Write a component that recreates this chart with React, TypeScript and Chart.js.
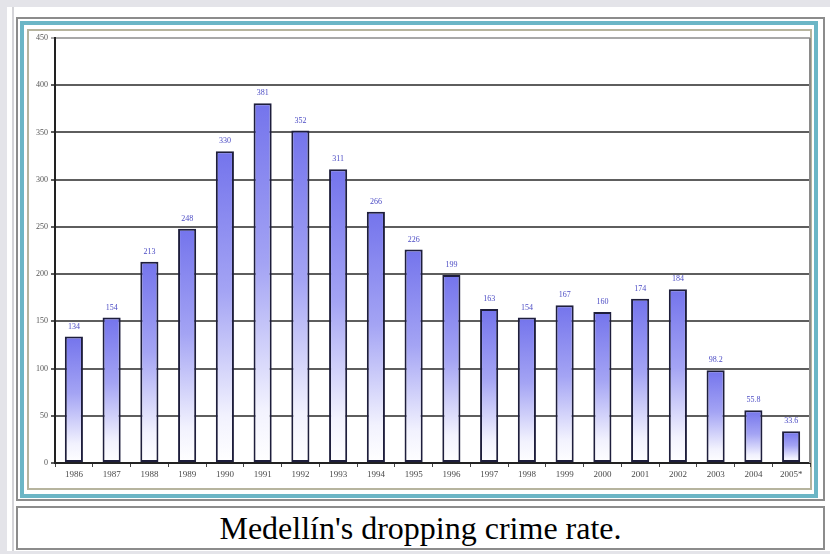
import React, { useEffect, useRef } from "react";
import { Chart, registerables } from "chart.js";

Chart.register(...registerables);

const years = [
  "1986", "1987", "1988", "1989", "1990", "1991", "1992", "1993", "1994", "1995",
  "1996", "1997", "1998", "1999", "2000", "2001", "2002", "2003", "2004", "2005*",
];
const rates = [134, 154, 213, 248, 330, 381, 352, 311, 266, 226, 199, 163, 154, 167, 160, 174, 184, 98.2, 55.8, 33.6];
const valueLabels = ["134", "154", "213", "248", "330", "381", "352", "311", "266", "226", "199", "163", "154", "167", "160", "174", "184", "98.2", "55.8", "33.6"];
const yMin = 0;
const yMax = 450;
const yStep = 50;
const caption = "Medellín's dropping crime rate.";

const valueLabelPlugin = {
  id: "valueLabels",
  afterDatasetsDraw(chart: any) {
    const c = chart.ctx;
    const meta = chart.getDatasetMeta(0);
    c.save();
    c.fillStyle = "#4b4bc4";
    c.font = "8px 'Liberation Serif', serif";
    c.textAlign = "center";
    c.textBaseline = "bottom";
    meta.data.forEach((bar: any, i: number) => {
      c.fillText(valueLabels[i], bar.x, bar.y - 6);
    });
    c.restore();
  },
  afterDraw(chart: any) {
    const c = chart.ctx;
    const a = chart.chartArea;
    c.save();
    c.strokeStyle = "#8a8a8a";
    c.lineWidth = 2;
    c.beginPath();
    c.moveTo(a.right, a.top);
    c.lineTo(a.right, a.bottom);
    c.stroke();
    c.restore();
  },
};

export default function App() {
  const ref = useRef<HTMLCanvasElement | null>(null);
  useEffect(() => {
    if (!ref.current) return;
    const chart = new Chart(ref.current, {
      type: "bar",
      data: {
        labels: years,
        datasets: [
          {
            data: rates,
            backgroundColor: (ctx: any) => {
              const ch = ctx.chart;
              if (ctx.type !== "data" || !ch.chartArea || !ch.scales.y) return "#8484ee";
              const y = ch.scales.y;
              const top = y.getPixelForValue(ctx.raw);
              const bottom = y.getPixelForValue(0);
              const g = ch.ctx.createLinearGradient(0, top, 0, bottom);
              g.addColorStop(0, "#7474ec");
              g.addColorStop(0.45, "#a4a4f4");
              g.addColorStop(0.85, "#f2f2fe");
              g.addColorStop(1, "#ffffff");
              return g;
            },
            borderColor: "#1e1e3c",
            borderWidth: 2,
            borderSkipped: false,
            barPercentage: 0.48,
            categoryPercentage: 1,
          },
        ],
      },
      options: {
        animation: false,
        responsive: false,
        devicePixelRatio: 1,
        layout: { padding: { top: 9, right: 2, left: 0, bottom: 0 } },
        plugins: { legend: { display: false }, tooltip: { enabled: false } },
        scales: {
          x: {
            offset: true,
            grid: {
              display: true,
              drawOnChartArea: false,
              drawTicks: true,
              tickLength: 4,
              offset: true,
              color: "#444",
              lineWidth: 1,
            },
            border: { display: true, color: "#222", width: 2 },
            ticks: {
              color: "#4a4a4a",
              font: { family: "'Liberation Serif', serif", size: 9 },
              padding: 2,
              maxRotation: 0,
              autoSkip: false,
            },
            afterFit: (s: any) => {
              s.height = 27;
            },
          },
          y: {
            min: yMin,
            max: yMax,
            grid: {
              color: (c: any) => (c.tick && c.tick.value === yMax ? "#a8a8a8" : "#5e5e5e"),
              lineWidth: 2,
              tickLength: 4,
            },
            border: { display: true, color: "#222", width: 2 },
            ticks: {
              stepSize: yStep,
              color: "#555",
              font: { family: "'Liberation Serif', serif", size: 8 },
              padding: 3,
            },
            afterFit: (s: any) => {
              s.width = 28;
            },
          },
        },
      },
      plugins: [valueLabelPlugin],
    });
    return () => chart.destroy();
  }, []);

  return (
    <div style={{ position: "fixed", left: 0, top: 0, width: 830, height: 554, background: "#e4e4e9", overflow: "hidden" }}>
      <div style={{ position: "absolute", left: 7, top: 7, width: 823, height: 544, background: "#ffffff" }} />
      <div style={{ position: "absolute", left: 12, top: 7, width: 2, height: 544, background: "#d4d4d8" }} />
      <div style={{ position: "absolute", left: 16, top: 17, width: 809, height: 484, boxSizing: "border-box", border: "2px solid #8c8c8c", background: "#fff" }} />
      <div style={{ position: "absolute", left: 20, top: 21, width: 798, height: 477, boxSizing: "border-box", border: "4px solid #6cb6c6", background: "#fff" }} />
      <div style={{ position: "absolute", left: 27, top: 29, width: 785, height: 461, boxSizing: "border-box", border: "2px solid #b6b49e", background: "#fff" }} />
      <canvas ref={ref} width={785} height={461} style={{ position: "absolute", left: 27, top: 29, width: 785, height: 461 }} />
      <div
        style={{
          position: "absolute",
          left: 16,
          top: 506,
          width: 809,
          height: 44,
          boxSizing: "border-box",
          border: "2px solid #8c8c8c",
          background: "#fff",
          display: "flex",
          alignItems: "center",
          justifyContent: "center",
          fontFamily: "'Liberation Serif', 'Times New Roman', serif",
          fontSize: 32,
          lineHeight: "40px",
          color: "#000",
        }}
      >
        {caption}
      </div>
    </div>
  );
}
